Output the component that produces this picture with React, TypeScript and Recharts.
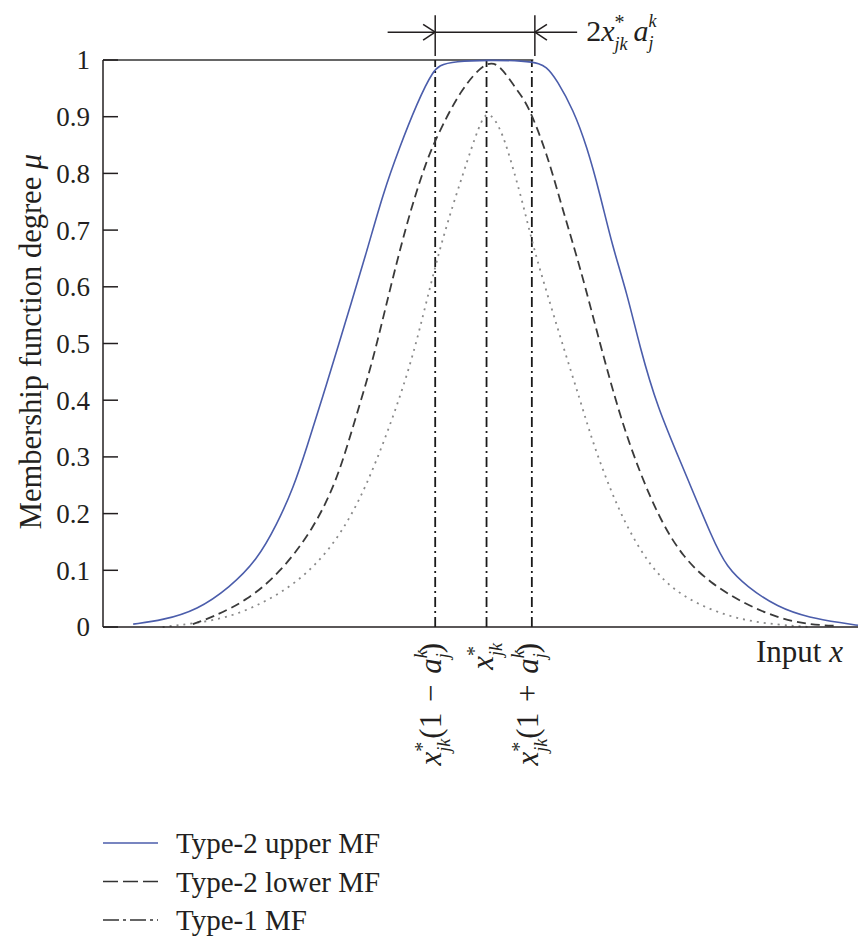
import React from 'react';
import { LineChart, Line, XAxis, YAxis, ReferenceLine } from 'recharts';

const upperX = [4.0, 7.9, 12.5, 16.8, 20.4, 23.0, 25.2, 27.0, 29.1, 31.4, 32.7, 35.0, 37.1, 39.3, 41.6, 43.7, 45.3, 57.0, 58.8, 60.1, 62.3, 64.1, 65.8, 67.5, 69.4, 71.1, 73.4, 76.8, 80.8, 82.6, 85.3, 89.3, 93.6, 98.0, 100];
const upperMu = [0.005, 0.012, 0.03, 0.07, 0.118, 0.18, 0.245, 0.317, 0.406, 0.506, 0.564, 0.665, 0.765, 0.847, 0.924, 0.982, 1, 1, 0.988, 0.965, 0.912, 0.847, 0.765, 0.67, 0.589, 0.494, 0.388, 0.282, 0.153, 0.106, 0.071, 0.035, 0.016, 0.007, 0.003];

const lowerX = [11.9, 14.6, 19.1, 23.4, 27.8, 31.0, 33.1, 35.0, 36.4, 38.4, 40.7, 42.9, 44.2, 47.3, 50.8, 52.6, 54.8, 56.2, 58.8, 60.9, 63.2, 65.8, 68.5, 71.1, 73.8, 76.8, 80.4, 84.8, 89.3, 93.6, 97.2];
const lowerMu = [0.005, 0.018, 0.047, 0.095, 0.171, 0.259, 0.353, 0.436, 0.506, 0.617, 0.735, 0.824, 0.864, 0.947, 1, 0.991, 0.947, 0.924, 0.836, 0.735, 0.635, 0.501, 0.37, 0.272, 0.189, 0.123, 0.078, 0.042, 0.016, 0.004, 0.002];

const dotX = [7.9, 15.9, 21.2, 25.7, 30.1, 33.6, 36.3, 38.9, 41.1, 42.9, 45.0, 47.7, 49.9, 51.0, 52.6, 53.9, 55.6, 57.0, 58.8, 60.8, 63.2, 64.9, 67.2, 69.4, 72.5, 76.0, 80.4, 84.8, 89.3, 93.6];
const dotMu = [0, 0.012, 0.042, 0.078, 0.136, 0.212, 0.295, 0.388, 0.48, 0.577, 0.688, 0.8, 0.889, 0.912, 0.882, 0.829, 0.748, 0.67, 0.589, 0.501, 0.4, 0.324, 0.242, 0.176, 0.106, 0.06, 0.03, 0.012, 0.004, 0];

// x*(1-a), x*, x*(1+a)
const markX = [44.0, 50.8, 56.8];
const markKinds = ['minus', 'center', 'plus'];
const yTicks = [0, 0.1, 0.2, 0.3, 0.4, 0.5, 0.6, 0.7, 0.8, 0.9, 1];

// width arrow 2x*a on top
const arrowFrom = 44.0;
const arrowTo = 57.2;
const arrowLeft = 37.7;
const arrowRight = 62.8;
const arrowY = 1.049;

const toPoints = (xs: number[], ys: number[]) => xs.map((x, i) => ({ x, mu: ys[i] }));
const upperData = toPoints(upperX, upperMu);
const lowerData = toPoints(lowerX, lowerMu);
const dotData = toPoints(dotX, dotMu);

const INK = '#231f20';
const BLUE = '#4b5dab';
const FONT = '"Liberation Serif", "Times New Roman", serif';

const legendItems = [
  { name: 'Type-2 upper MF', stroke: BLUE, dash: undefined as string | undefined },
  { name: 'Type-2 lower MF', stroke: '#333', dash: '15 5' },
  { name: 'Type-1 MF', stroke: '#333', dash: '16 4 3 4' },
];

const S = 18;

// x with * above and jk below
function xStar(key: string) {
  return [
    <tspan key={key + 'x'} fontStyle="italic">x</tspan>,
    <tspan key={key + 's'} fontSize={S + 2} dy={-12}>*</tspan>,
    <tspan key={key + 'jk'} fontSize={S} fontStyle="italic" dx={-10} dy={21}>jk</tspan>,
  ];
}

// a with k above and j below
function aKJ(key: string) {
  return [
    <tspan key={key + 'a'} fontStyle="italic">a</tspan>,
    <tspan key={key + 'k'} fontSize={S} fontStyle="italic" dy={-14}>k</tspan>,
    <tspan key={key + 'j'} fontSize={S} fontStyle="italic" dx={-8} dy={22}>j</tspan>,
  ];
}

function MuTick({ x, y, payload }: any) {
  return (
    <g>
      <line x1={x} y1={y} x2={x + 15} y2={y} stroke={INK} strokeWidth={1.5} />
      <text x={x - 13} y={y} dy="0.35em" textAnchor="end" fontSize={27} fill={INK} fontFamily={FONT}>
        {String(payload.value)}
      </text>
    </g>
  );
}

function MarkTick({ x, y, index }: any) {
  const kind = markKinds[index];
  let parts: React.ReactNode[];
  if (kind === 'center') {
    parts = xStar('c');
  } else {
    parts = [
      ...xStar('m'),
      <tspan key="op" dy={-9}>{kind === 'minus' ? '(1 − ' : '(1 + '}</tspan>,
      ...aKJ('m'),
      <tspan key="cl" dy={-8}>)</tspan>,
    ];
  }
  return (
    <text
      transform={`translate(${x + 6},${y + 16}) rotate(-90)`}
      textAnchor="end"
      fontSize={31}
      fill={INK}
      fontFamily={FONT}
      style={{ wordSpacing: 3 }}
    >
      {parts}
    </text>
  );
}

function MuLabel({ viewBox }: any) {
  const cx = viewBox.x + 31;
  const cy = viewBox.y + viewBox.height / 2 - 2;
  return (
    <text transform={`translate(${cx},${cy}) rotate(-90)`} textAnchor="middle" fontSize={30.5} fill={INK} fontFamily={FONT}>
      Membership function degree <tspan fontStyle="italic">μ</tspan>
    </text>
  );
}

function InputLabel({ viewBox }: any) {
  return (
    <text x={viewBox.x + viewBox.width - 15} y={viewBox.y + 35} textAnchor="end" fontSize={31} fill={INK} fontFamily={FONT}>
      Input <tspan fontStyle="italic">x</tspan>
    </text>
  );
}

function WidthLabel({ viewBox }: any) {
  return (
    <text x={viewBox.x + viewBox.width + 9} y={viewBox.y + 9} fontSize={30} fill={INK} fontFamily={FONT}>
      2{xStar('t')}
      <tspan dy={-9}>{'\u2009'}</tspan>
      {aKJ('t')}
    </text>
  );
}

function Legend() {
  return (
    <svg width={420} height={119} style={{ position: 'absolute', left: 0, top: 820 }}>
      {legendItems.map((item, i) => {
        const cy = 23 + i * 38.5;
        return (
          <g key={item.name}>
            <line x1={103} x2={158} y1={cy} y2={cy} stroke={item.stroke} strokeWidth={1.6} strokeDasharray={item.dash} />
            <text x={176} y={cy + 10} fontSize={29} fill={INK} fontFamily={FONT}>
              {item.name}
            </text>
          </g>
        );
      })}
    </svg>
  );
}

export default function App() {
  const head = 1.6;
  const headH = 0.014;
  return (
    <div style={{ position: 'absolute', left: 0, top: 0, width: 860, height: 939, background: '#fff', fontFamily: FONT }}>
      <LineChart width={860} height={939} margin={{ top: 60, right: 2, bottom: 152, left: 10 }}>
        <XAxis
          type="number"
          dataKey="x"
          domain={[0, 100]}
          ticks={markX}
          interval={0}
          height={160}
          axisLine={{ stroke: INK, strokeWidth: 1.5 }}
          tickLine={false}
          tickSize={0}
          tickMargin={0}
          tick={<MarkTick />}
          label={{ content: <InputLabel /> }}
        />
        <YAxis
          type="number"
          domain={[0, 1]}
          ticks={yTicks}
          interval={0}
          width={93}
          axisLine={{ stroke: INK, strokeWidth: 1.5 }}
          tickLine={false}
          tickSize={0}
          tickMargin={0}
          tick={<MuTick />}
          label={{ content: <MuLabel /> }}
        />
        {/* top frame, only up to the end of the plateau */}
        <ReferenceLine segment={[{ x: 0, y: 1 }, { x: arrowTo - 0.2, y: 1 }]} stroke="#333" strokeWidth={1.5} ifOverflow="visible" />
        {markX.map((mx) => (
          <ReferenceLine
            key={mx}
            segment={[{ x: mx, y: 0 }, { x: mx, y: 1 }]}
            stroke="#1a1a1a"
            strokeWidth={1.8}
            strokeDasharray="10 4 2 4"
            ifOverflow="visible"
          />
        ))}
        {/* 2x*a dimension arrow */}
        <ReferenceLine
          segment={[{ x: arrowLeft, y: arrowY }, { x: arrowRight, y: arrowY }]}
          stroke={INK}
          strokeWidth={1.5}
          ifOverflow="visible"
          label={{ content: <WidthLabel /> }}
        />
        <ReferenceLine segment={[{ x: arrowFrom, y: 1.079 }, { x: arrowFrom, y: 1.007 }]} stroke={INK} strokeWidth={1.5} ifOverflow="visible" />
        <ReferenceLine segment={[{ x: arrowTo, y: 1.079 }, { x: arrowTo, y: 1.007 }]} stroke={INK} strokeWidth={1.5} ifOverflow="visible" />
        <ReferenceLine segment={[{ x: arrowFrom - head, y: arrowY + headH }, { x: arrowFrom, y: arrowY }]} stroke={INK} strokeWidth={1.5} ifOverflow="visible" />
        <ReferenceLine segment={[{ x: arrowFrom - head, y: arrowY - headH }, { x: arrowFrom, y: arrowY }]} stroke={INK} strokeWidth={1.5} ifOverflow="visible" />
        <ReferenceLine segment={[{ x: arrowTo + head, y: arrowY + headH }, { x: arrowTo, y: arrowY }]} stroke={INK} strokeWidth={1.5} ifOverflow="visible" />
        <ReferenceLine segment={[{ x: arrowTo + head, y: arrowY - headH }, { x: arrowTo, y: arrowY }]} stroke={INK} strokeWidth={1.5} ifOverflow="visible" />

        <Line data={dotData} dataKey="mu" type="basis" stroke="#8a8a8a" strokeWidth={1.8} strokeDasharray="2 5" dot={false} isAnimationActive={false} />
        <Line data={lowerData} dataKey="mu" type="basis" stroke="#3a3a3a" strokeWidth={1.8} strokeDasharray="9 5" dot={false} isAnimationActive={false} />
        <Line data={upperData} dataKey="mu" type="basis" stroke={BLUE} strokeWidth={1.6} dot={false} isAnimationActive={false} />
      </LineChart>
      <Legend />
    </div>
  );
}
